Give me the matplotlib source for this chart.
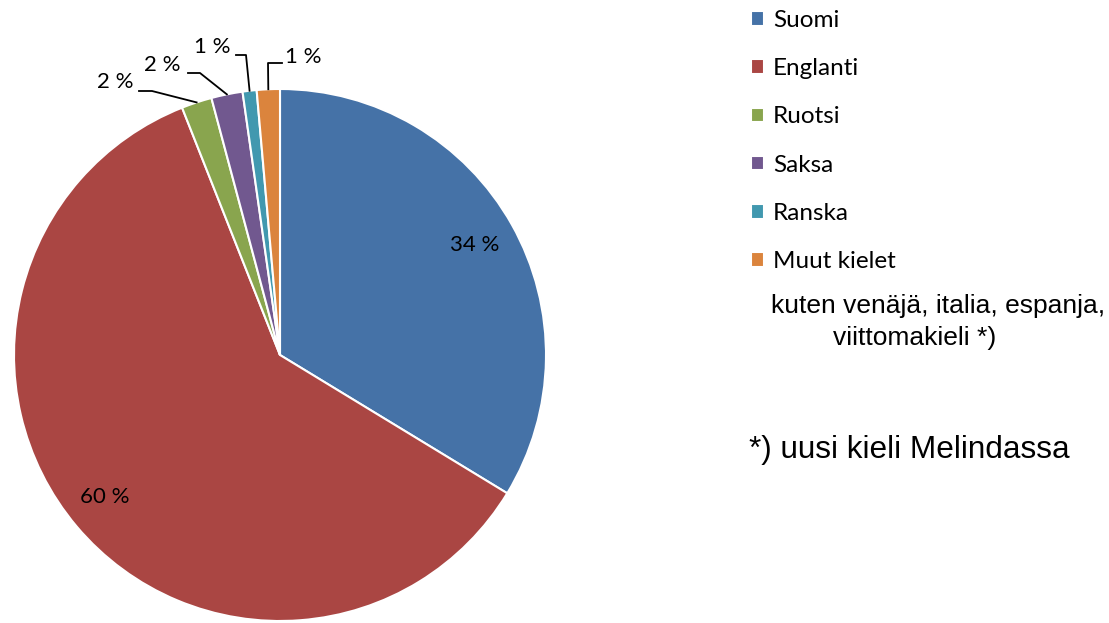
import matplotlib.pyplot as plt
import numpy as np

# kielet Melindassa
kielet = ['Suomi', 'Englanti', 'Ruotsi', 'Saksa', 'Ranska', 'Muut kielet']
osuudet = [33.7, 60.3, 1.85, 1.9, 0.85, 1.4]
nimiot = ['34 %', '60 %', '2 %', '2 %', '1 %', '1 %']
varit = ['#4572A7', '#AA4643', '#89A54E', '#71588F', '#4198AF', '#DB843D']

W, H = 1109, 623
fig = plt.figure(figsize=(W / 100, H / 100), dpi=100)

# piirakka: keskipiste (280, 355) px, säde 266 px
cx, cy, r = 280, 355, 266
ax = fig.add_axes([(cx - r) / W, (H - cy - r) / H, 2 * r / W, 2 * r / H])
wedges, _ = ax.pie(osuudet, colors=varit, startangle=90, counterclock=False,
                   wedgeprops=dict(edgecolor='white', linewidth=1.5))
ax.set_xlim(-1, 1)
ax.set_ylim(-1, 1)
ax.set_aspect('equal')
ax.axis('off')

fontti = ['Lato', 'DejaVu Sans']

def px(x, y):
    # pikselit -> datakoordinaatit
    return (x - cx) / r, (cy - y) / r

# isot sektorit: nimiö sektorin sisällä
sisa = {0: (475, 245), 1: (105, 497)}
for i, (x, y) in sisa.items():
    ax.text(*px(x, y), nimiot[i], ha='center', va='center', fontsize=16,
            family=fontti)

# pienet sektorit: nimiö ja johtoviiva
ulko = {2: ((115, 82), (139, 91), (152, 91)),
        3: ((162, 65), (188, 73), (200, 73)),
        4: ((212, 47), (236, 55), (246, 55)),
        5: ((303, 57), (282, 63), (268, 63))}
for i, (teksti, a, b) in ulko.items():
    w = wedges[i]
    kulma = np.deg2rad((w.theta1 + w.theta2) / 2)
    kx, ky = np.cos(kulma), np.sin(kulma)
    ax.plot([px(*a)[0], px(*b)[0], kx], [px(*a)[1], px(*b)[1], ky],
            color='black', lw=1.3, clip_on=False)
    ax.text(*px(*teksti), nimiot[i], ha='center', va='center', fontsize=16,
            family=fontti, clip_on=False)

fig.legend(wedges, kielet, loc='upper left',
           bbox_to_anchor=(751 / W, 1 - 10 / H), frameon=False,
           prop=dict(family=fontti, size=17.5), handlelength=0.55,
           handleheight=0.55, handletextpad=0.35, labelspacing=1.12,
           borderpad=0, borderaxespad=0)

fig.text(938 / W, 1 - 306 / H, 'kuten venäjä, italia, espanja,', ha='center',
         va='center', fontsize=19, family='Liberation Sans')
fig.text(915 / W, 1 - 338 / H, 'viittomakieli *)', ha='center',
         va='center', fontsize=19, family='Liberation Sans')
fig.text(909 / W, 1 - 450 / H, '*) uusi kieli Melindassa', ha='center',
         va='center', fontsize=22.7, family='Liberation Sans')

fig.savefig('out.png', dpi=100)
